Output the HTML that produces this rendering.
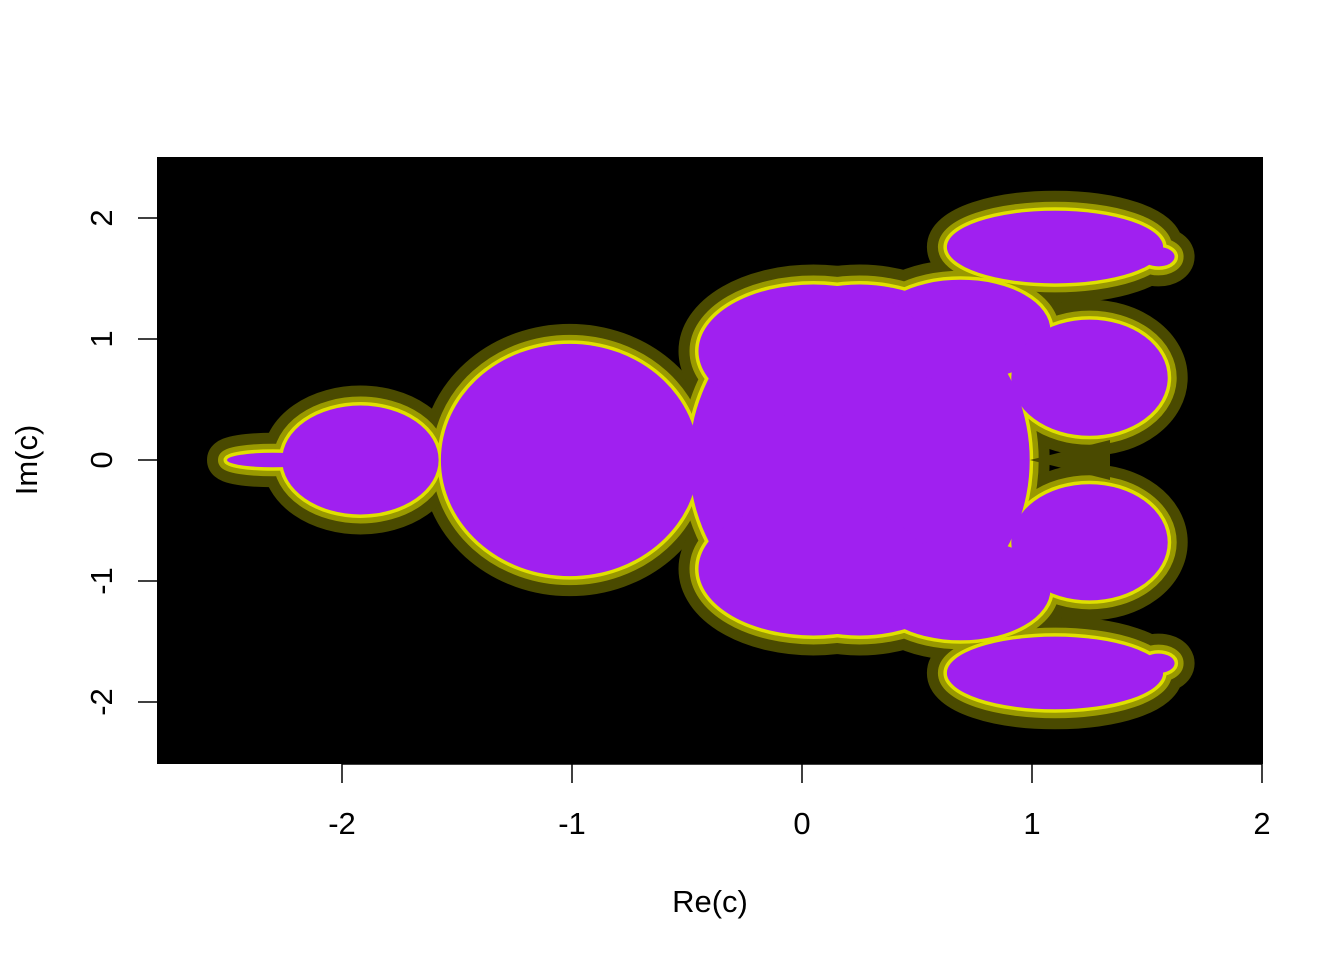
<!DOCTYPE html>
<html><head><meta charset="utf-8">
<style>
html,body{margin:0;padding:0;background:#fff;}
svg{display:block;}
text{font-family:"Liberation Sans",Arial,sans-serif;font-size:31px;fill:#000;}
</style></head>
<body>
<svg id="chart" width="1344" height="960" viewBox="0 0 1344 960" xmlns="http://www.w3.org/2000/svg">
  <rect x="157" y="157" width="1106" height="607" fill="#000"/>
  <g id="halo1"></g>
  <g id="halo2"></g>
  <g id="halo3"></g>
  <g id="setg"></g>
  <g id="xaxis"></g>
  <g id="yaxis"></g>
  <text x="710" y="912" text-anchor="middle">Re(c)</text>
  <text x="0" y="0" text-anchor="middle" transform="translate(37,460) rotate(-90)">Im(c)</text>
</svg>
<script>
// Region components in data units: centre re, centre im, radius along re, radius along im
const regionRe = [0.25, -1.01, -1.92, 1.1, 1.1, 0.69, 0.69, 1.25, 1.25, 1.55, 1.55, -2.3, 0.05, 0.05];
const regionIm = [0, 0, 0, 1.76, -1.76, 1.07, -1.07, 0.68, -0.68, 1.68, -1.68, 0, 0.9, -0.9];
const regionRx = [0.74, 0.56, 0.34, 0.47, 0.47, 0.39, 0.39, 0.34, 0.34, 0.07, 0.07, 0.2, 0.5, 0.5];
const regionRy = [1.45, 0.96, 0.45, 0.3, 0.3, 0.42, 0.42, 0.48, 0.48, 0.08, 0.08, 0.06, 0.55, 0.55];
const xTicks = [-2, -1, 0, 1, 2];
const yTicks = [-2, -1, 0, 1, 2];

const NS = "http://www.w3.org/2000/svg";
function sx(v){ return 802 + 230 * v; }
function sy(v){ return 460 - 121 * v; }

const layers = [
  ["halo1", "#4a4a00", 40],
  ["halo2", "#999900", 18],
  ["halo3", "#e0e000", 7],
  ["setg", "#a020f0", 0]
];
layers.forEach(function(L){
  const g = document.getElementById(L[0]);
  for (let i = 0; i < regionRe.length; i++) {
    const e = document.createElementNS(NS, "ellipse");
    e.setAttribute("cx", sx(regionRe[i]));
    e.setAttribute("cy", sy(regionIm[i]));
    e.setAttribute("rx", 230 * regionRx[i]);
    e.setAttribute("ry", 121 * regionRy[i]);
    e.setAttribute("fill", L[1]);
    if (L[2] > 0) { e.setAttribute("stroke", L[1]); e.setAttribute("stroke-width", L[2]); e.setAttribute("stroke-linejoin", "round"); }
    
    
    g.appendChild(e);
  }
});
(function(){
  const g = document.getElementById("setg");
  const p = document.createElementNS(NS, "path");
  p.setAttribute("d", "M1030 460 L1110 440 L1110 480 Z");
  p.setAttribute("fill", "#4a4a00");
  
  
  g.appendChild(p);
})();

const xa = document.getElementById("xaxis");
const xl = document.createElementNS(NS, "line");
xl.setAttribute("x1", sx(xTicks[0])); xl.setAttribute("x2", sx(xTicks[xTicks.length-1]));
xl.setAttribute("y1", 764); xl.setAttribute("y2", 764);
xl.setAttribute("stroke", "#000"); xl.setAttribute("stroke-width", 1.5);


xa.appendChild(xl);
xTicks.forEach(function(t){
  const l = document.createElementNS(NS, "line");
  l.setAttribute("x1", sx(t)); l.setAttribute("x2", sx(t));
  l.setAttribute("y1", 764); l.setAttribute("y2", 783);
  l.setAttribute("stroke", "#000"); l.setAttribute("stroke-width", 1.5);
  
  
  xa.appendChild(l);
  const tx = document.createElementNS(NS, "text");
  tx.setAttribute("x", sx(t)); tx.setAttribute("y", 834);
  tx.setAttribute("text-anchor", "middle");
  tx.textContent = String(t);
  
  
  xa.appendChild(tx);
});
const ya = document.getElementById("yaxis");
yTicks.forEach(function(t){
  const l = document.createElementNS(NS, "line");
  l.setAttribute("x1", 138); l.setAttribute("x2", 157);
  l.setAttribute("y1", sy(t)); l.setAttribute("y2", sy(t));
  l.setAttribute("stroke", "#000"); l.setAttribute("stroke-width", 1.5);
  
  
  ya.appendChild(l);
  const tx = document.createElementNS(NS, "text");
  tx.setAttribute("text-anchor", "middle");
  tx.setAttribute("transform", "translate(112," + sy(t) + ") rotate(-90)");
  tx.textContent = String(t);
  
  
  ya.appendChild(tx);
});
</script>
</body></html>
